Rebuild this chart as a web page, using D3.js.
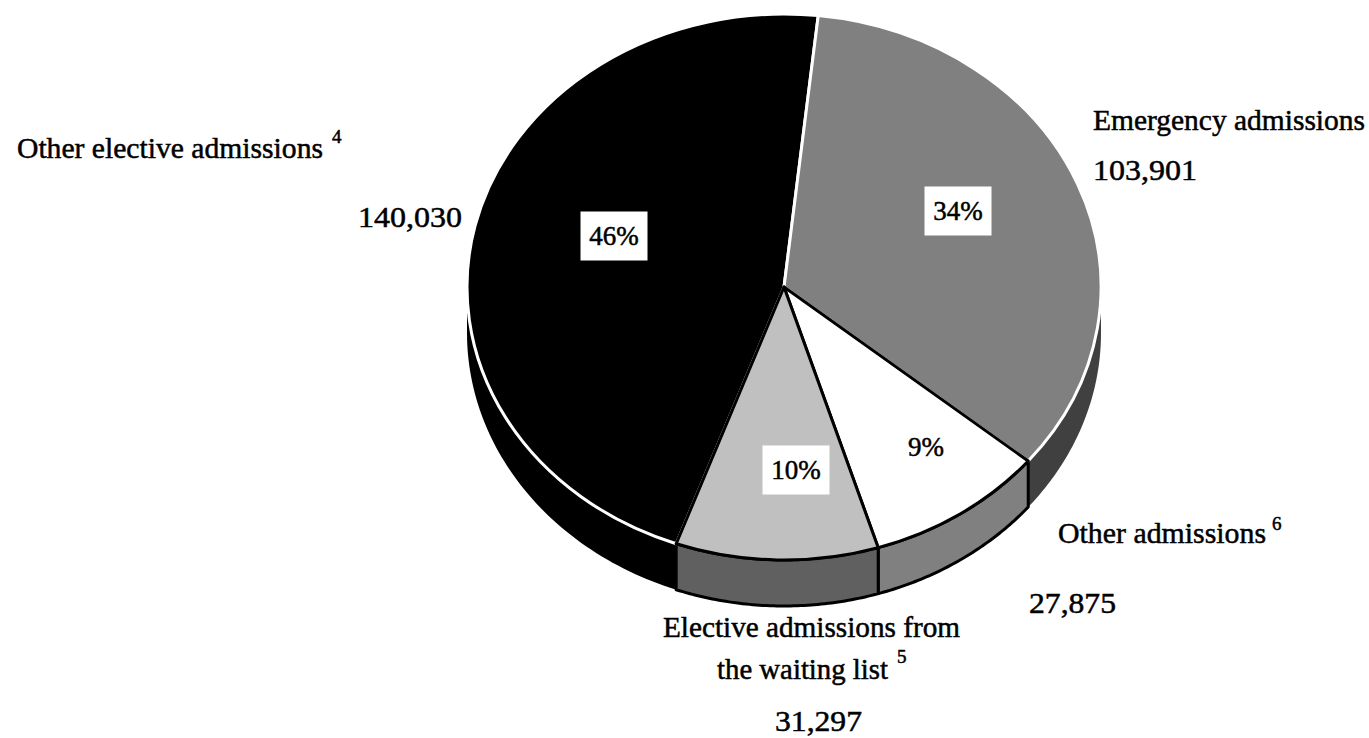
<!DOCTYPE html>
<html><head><meta charset="utf-8"><style>html,body{margin:0;background:#fff}svg{display:block}text{font-family:"Liberation Serif",serif;fill:#000;stroke:#000;stroke-width:.5px}</style>
<script src="https://cdn.jsdelivr.net/npm/d3@7"></script></head><body><script>
const categories=["Emergency admissions","Other admissions","Elective admissions from the waiting list","Other elective admissions"];
const values=[103901,27875,31297,140030];
const percents=["34%","9%","10%","46%"];
const topColors=["#808080","#ffffff","#c0c0c0","#000000"];
const sideColors=["#404040","#808080","#606060","#000000"];
const strokes=["#ffffff","#000000","#000000","#ffffff"];
const W=1369,H=738,cx=784,cy=287,rx=317,ry=273,depth=46;
const svg=d3.select("body").append("svg").attr("width",W).attr("height",H);
const start=6.2*Math.PI/180;
const arcs=d3.pie().sort(null).startAngle(start).endAngle(start+2*Math.PI)(values);
const px=a=>cx+rx*Math.sin(a),py=a=>cy-ry*Math.cos(a);
const line=d3.line();
arcs.forEach((d,i)=>{
  const a0=Math.max(d.startAngle,Math.PI/2),a1=Math.min(d.endAngle,Math.PI*1.5);
  if(a1<=a0)return;
  const as=d3.range(0,61).map(k=>a0+(a1-a0)*k/60);
  const pts=as.map(a=>[px(a),py(a)]).concat(as.slice().reverse().map(a=>[px(a),py(a)+depth]));
  svg.append("path").attr("d",line(pts)+"Z").attr("fill",sideColors[i])
    .attr("stroke",i==0||i==3?"none":"#000").attr("stroke-width",3).attr("stroke-linejoin","round");
});
const arcGen=d3.arc().innerRadius(0).outerRadius(rx);
const g=svg.append("g").attr("transform",`translate(${cx},${cy}) scale(1,${ry/rx})`);
[3,0,1,2].forEach(i=>{
  g.append("path").attr("d",arcGen(arcs[i])).attr("fill",topColors[i]).attr("stroke",strokes[i])
   .attr("stroke-width",3).attr("stroke-linejoin","round").style("vector-effect","non-scaling-stroke");
});
const fs=29;
const pctX=[958,926,796,614],pctY=[211,447,470,236];
percents.forEach((t,i)=>{
  svg.append("rect").attr("x",pctX[i]-33.5).attr("y",pctY[i]-24.5).attr("width",67).attr("height",49).attr("fill","#fff");
  svg.append("text").attr("x",pctX[i]).attr("y",pctY[i]+9).attr("text-anchor","middle").attr("font-size",fs-2).text(t);
});
const labels=[
 {t:"Emergency admissions",x:1093,y:130,w:272},
 {t:"103,901",x:1093,y:180,w:104},
 {t:"Other elective admissions",x:17,y:158,w:306,sup:"4",sx:332,sy:143},
 {t:"140,030",x:358,y:227,w:104},
 {t:"Other admissions",x:1058,y:543,w:208,sup:"6",sx:1272,sy:530},
 {t:"27,875",x:1029,y:613,w:87},
 {t:"Elective admissions from",x:663,y:637,w:297},
 {t:"the waiting list",x:717,y:679,w:171,sup:"5",sx:897,sy:663},
 {t:"31,297",x:775,y:731,w:87}
];
labels.forEach(l=>{
  svg.append("text").attr("x",l.x).attr("y",l.y).attr("font-size",fs).attr("textLength",l.w).attr("lengthAdjust","spacingAndGlyphs").text(l.t);
  if(l.sup)svg.append("text").attr("x",l.sx).attr("y",l.sy).attr("font-size",19).text(l.sup);
});
</script></body></html>
